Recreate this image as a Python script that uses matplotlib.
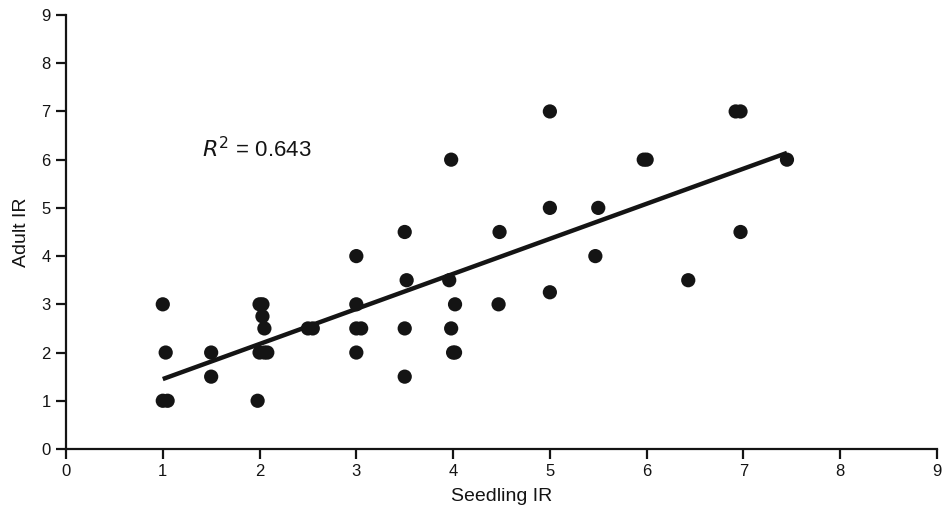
import numpy as np
import matplotlib
matplotlib.use("Agg")
import matplotlib.pyplot as plt

plt.rcParams['font.family'] = ['Liberation Sans', 'DejaVu Sans']

# Seedling IR vs Adult IR
seedling_ir = [1.00, 1.03, 1.00, 1.05,
               1.50, 1.50,
               2.00, 2.03, 2.03, 2.05, 2.00, 2.05, 2.08, 1.98,
               2.50, 2.55,
               3.00, 3.00, 3.00, 3.05, 3.00,
               3.50, 3.52, 3.50, 3.50,
               3.98, 3.96, 3.98, 4.02, 4.00, 4.02,
               4.48, 4.47,
               5.00, 5.00, 5.00,
               5.50, 5.47,
               5.97, 6.00,
               6.43,
               6.92, 6.97, 6.97,
               7.45]
adult_ir = [3.00, 2.00, 1.00, 1.00,
            2.00, 1.50,
            3.00, 3.00, 2.75, 2.50, 2.00, 2.00, 2.00, 1.00,
            2.50, 2.50,
            4.00, 3.00, 2.50, 2.50, 2.00,
            4.50, 3.50, 2.50, 1.50,
            6.00, 3.50, 2.50, 3.00, 2.00, 2.00,
            4.50, 3.00,
            7.00, 5.00, 3.25,
            5.00, 4.00,
            6.00, 6.00,
            3.50,
            7.00, 7.00, 4.50,
            6.00]

# fitted line as drawn in the figure
line_x = [1.0, 7.45]
line_y = [1.45, 6.14]
r2_text = "$R^2$ = 0.643"

fig = plt.figure(figsize=(9.43, 5.14), dpi=100)
ax = fig.add_axes([0.070, 0.1265, 0.9236, 0.8443])

ax.scatter(seedling_ir, adult_ir, s=105, color="#141414", edgecolors="none", zorder=3, clip_on=False)
ax.plot(line_x, line_y, color="#141414", linewidth=3.2, solid_capstyle="butt", zorder=4)

ax.text(1.41, 6.2, r2_text, fontsize=16, va="center", ha="left", color="#141414")

ax.set_xlim(0, 9)
ax.set_ylim(0, 9)
ax.set_xticks(range(0, 10))
ax.set_yticks(range(0, 10))
ax.spines['top'].set_visible(False)
ax.spines['right'].set_visible(False)
for s in ['left', 'bottom']:
    ax.spines[s].set_linewidth(1.6)
    ax.spines[s].set_color("#141414")
ax.tick_params(axis='both', direction='out', length=7, width=1.6, labelsize=12, colors="#141414", pad=4)
ax.tick_params(axis='x', pad=4)

ax.set_xlabel("Seedling IR", fontsize=14, color="#141414", labelpad=6)
ax.set_ylabel("Adult IR", fontsize=14, color="#141414", labelpad=8)

fig.savefig("out.png", dpi=100)
